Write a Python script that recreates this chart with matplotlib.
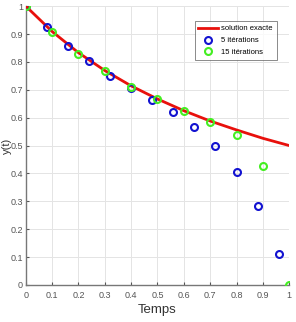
import matplotlib
matplotlib.use("Agg")
import matplotlib.pyplot as plt

# Données
t_exact = [0.0, 0.1, 0.2, 0.3, 0.4, 0.5, 0.6, 0.7, 0.8, 0.9, 1.0]
y_exact = [1.0, 0.909, 0.833, 0.769, 0.714, 0.667, 0.625, 0.588, 0.556, 0.526, 0.5]

t_5 = [0.0, 0.08, 0.16, 0.24, 0.32, 0.40, 0.48, 0.56, 0.64, 0.72, 0.80, 0.88, 0.96]
y_5 = [1.0, 0.924, 0.858, 0.803, 0.749, 0.705, 0.663, 0.619, 0.565, 0.498, 0.406, 0.282, 0.11]

t_15 = [0.0, 0.1, 0.2, 0.3, 0.4, 0.5, 0.6, 0.7, 0.8, 0.9, 1.0]
y_15 = [1.0, 0.906, 0.830, 0.767, 0.709, 0.666, 0.624, 0.585, 0.538, 0.428, 0.0]

ticks = [0, 0.1, 0.2, 0.3, 0.4, 0.5, 0.6, 0.7, 0.8, 0.9, 1]
tick_labels = ["0", "0.1", "0.2", "0.3", "0.4", "0.5", "0.6", "0.7", "0.8", "0.9", "1"]

plt.rcParams['font.family'] = ['Liberation Sans', 'DejaVu Sans']

fig = plt.figure(figsize=(2.96, 3.22), dpi=100)
ax = fig.add_axes([0.087, 0.115, 0.89, 0.866])

ax.plot(t_exact, y_exact, color="#e8100c", lw=2.0, label="solution exacte", zorder=3)
ax.plot(t_5, y_5, "o", ms=5, mfc="none", mec="#1212d0", mew=1.5, label="5 itérations", zorder=4)
ax.plot(t_15, y_15, "o", ms=5, mfc="none", mec="#44ee22", mew=1.5, label="15 itérations", zorder=5)

ax.set_xlim(0, 1)
ax.set_ylim(0, 1)
ax.set_xticks(ticks)
ax.set_xticklabels(tick_labels)
ax.set_yticks(ticks)
ax.set_yticklabels(tick_labels)
ax.tick_params(direction="in", length=2, labelsize=6.5, colors="#555555", pad=4)
ax.tick_params(axis="y", pad=2)
ax.grid(True, color="#e4e4e4", lw=0.7)
ax.set_axisbelow(True)

for s in ["top", "right"]:
    ax.spines[s].set_visible(False)
for s in ["left", "bottom"]:
    ax.spines[s].set_color("#777777")
    ax.spines[s].set_linewidth(1.0)

ax.set_xlabel("Temps", fontsize=9.5, color="#333333", labelpad=3)
ax.set_ylabel("y(t)", fontsize=8, color="#333333")
ax.yaxis.set_label_coords(-0.053, 0.5)

leg = ax.legend(loc="upper right", bbox_to_anchor=(0.967, 0.96), fontsize=5.5,
                frameon=True, fancybox=False, edgecolor="#555555",
                handlelength=2.6, borderpad=0.5, labelspacing=0.6, handletextpad=0.4)
leg.get_frame().set_linewidth(0.6)

fig.savefig("out.png", dpi=100)
